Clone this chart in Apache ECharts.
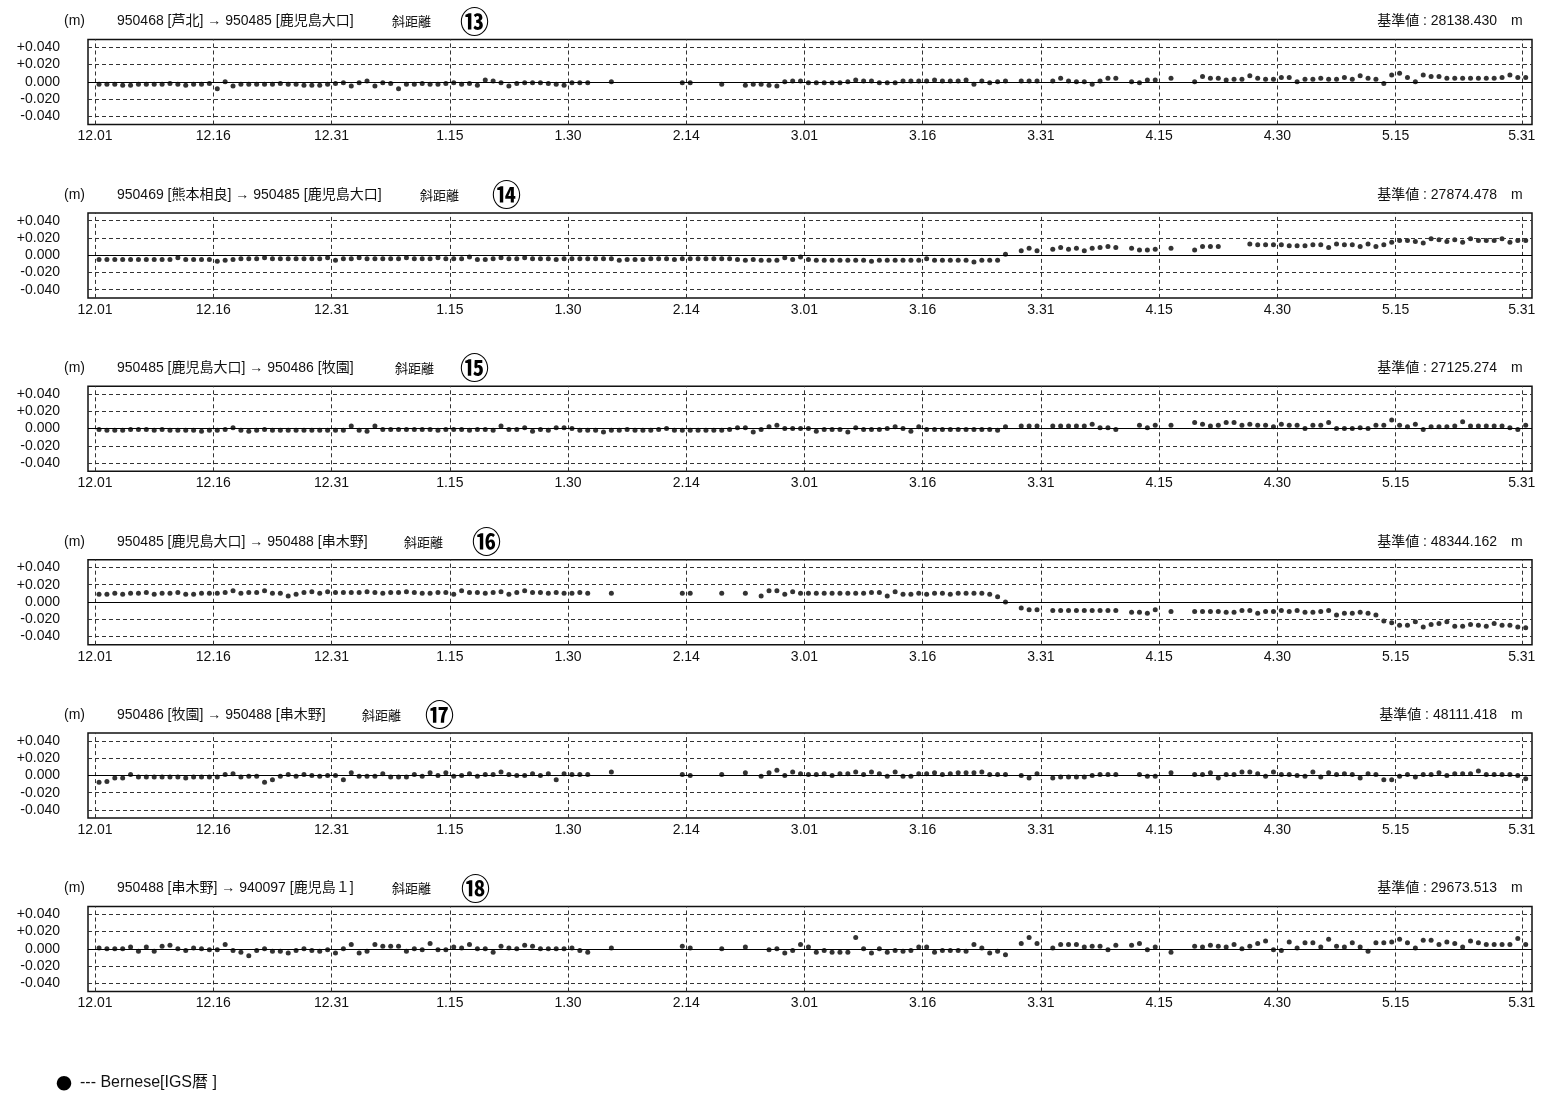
<!DOCTYPE html>
<html>
<head>
<meta charset="utf-8">
<title>斜距離 Bernese[IGS暦]</title>
<script src="https://cdn.jsdelivr.net/npm/echarts@6/dist/echarts.min.js"></script>
<style>
  html, body { margin: 0; padding: 0; background: #fff; }
  #chart { width: 1545px; height: 1094px; }
</style>
</head>
<body>
<div id="chart"></div>
<script>
// Day index 0 = 12.01; one daily solution per day, plotted at mid-day (index + 0.5)
const tickDays   = [0, 15, 30, 45, 60, 75, 90, 105, 120, 135, 150, 165, 181];
const tickLabels = ['12.01','12.16','12.31','1.15','1.30','2.14','3.01','3.16','3.31','4.15','4.30','5.15','5.31'];
const yTicks     = [-0.04, -0.02, 0, 0.02, 0.04];

// Baselines shown in the six panels
const routes = [
  '950468 [芦北] → 950485 [鹿児島大口]',
  '950469 [熊本相良] → 950485 [鹿児島大口]',
  '950485 [鹿児島大口] → 950486 [牧園]',
  '950485 [鹿児島大口] → 950488 [串木野]',
  '950486 [牧園] → 950488 [串木野]',
  '950488 [串木野] → 940097 [鹿児島１]'
];
const panelNos   = ['⑬', '⑭', '⑮', '⑯', '⑰', '⑱'];
const baseValues = ['28138.430', '27874.478', '27125.274', '48344.162', '48111.418', '29673.513'];

// Daily slope-distance residuals in mm (index = days since 12.01, null = no solution)
const line13 = [
  -3,-3,-3,-4,-4,-3,-3,-3,-3,-2,-3,-4,-3,-3,-2,
  -8,0,-5,-3,-3,-3,-3,-3,-2,-3,-3,-4,-4,-4,-3,
  -2,-1,-5,-1,1,-5,-1,-2,-8,-3,-3,-2,-3,-3,-2,
  -1,-3,-2,-4,2,1,-1,-5,-2,-1,-1,-1,-2,-3,-4,
  -1,-1,-1,null,null,0,null,null,null,null,null,null,null,null,-1,
  -1,null,null,null,-3,null,null,-4,-3,-3,-4,-5,0,1,1,
  -1,-1,-1,-1,-1,0,2,1,1,-1,-1,-1,1,1,1,
  1,2,1,1,1,2,-3,1,-1,0,1,null,1,1,1,
  null,1,4,1,0,0,-3,1,4,4,null,0,-1,2,2,
  null,4,null,null,0,6,4,4,2,3,3,7,4,3,3,
  5,5,0,3,3,4,3,3,5,3,7,4,3,-2,8,
  10,5,0,8,6,6,4,4,4,4,4,4,4,5,8,5,5
];
const line14 = [
  -5,-5,-5,-5,-5,-5,-5,-5,-5,-5,-3,-5,-5,-5,-5,
  -7,-6,-5,-4,-4,-4,-3,-4,-4,-4,-4,-4,-4,-4,-3,
  -6,-4,-4,-3,-4,-4,-4,-4,-4,-3,-4,-4,-4,-3,-4,
  -4,-4,-2,-5,-5,-4,-3,-4,-4,-3,-4,-4,-4,-5,-4,
  -4,-4,-4,-4,-4,-4,-6,-5,-5,-5,-4,-4,-4,-5,-4,
  -4,-4,-4,-4,-4,-4,-5,-6,-5,-6,-6,-6,-3,-5,-2,
  -5,-6,-6,-6,-6,-6,-6,-6,-7,-6,-6,-6,-6,-6,-6,
  -4,-6,-6,-6,-6,-6,-8,-6,-6,-6,1,null,5,8,5,
  null,7,9,7,8,5,8,9,10,9,null,8,6,6,7,
  null,8,null,null,6,10,10,10,null,null,null,13,12,12,12,
  12,11,11,11,12,12,9,13,12,12,10,13,10,12,15,
  17,17,16,14,19,18,16,18,15,19,17,17,17,19,15,17,17
];
const line15 = [
  -1,-2,-2,-2,-1,-1,-1,-2,-1,-2,-2,-2,-2,-3,-2,
  -2,-1,1,-2,-3,-2,-1,-2,-2,-2,-2,-2,-2,-2,-2,
  -2,-2,3,-2,-3,3,-1,-1,-1,-1,-1,-1,-1,-2,-1,
  -1,-1,-2,-1,-1,-2,3,-1,-1,1,-3,-1,-2,1,1,
  0,-2,-2,-2,-4,-2,-2,-1,-2,-2,-2,-1,0,-2,-2,
  -2,-2,-2,-2,-2,-1,1,1,-4,-1,2,4,0,0,0,
  0,-3,-1,-1,-1,-4,1,-1,-1,-1,0,2,0,-3,2,
  -1,-1,-1,-1,-1,-1,-1,-1,-1,-2,2,null,3,3,3,
  null,3,3,3,3,3,5,1,1,-1,null,null,4,1,4,
  null,4,null,null,7,5,3,4,7,7,4,5,4,4,2,
  5,4,4,0,4,4,7,0,0,0,1,0,4,4,10,
  4,2,5,-1,2,2,2,3,8,3,3,3,3,3,1,-1,4
];
const line16 = [
  9,9,10,9,10,10,11,9,10,10,11,9,9,10,10,
  10,11,13,10,11,11,13,10,10,7,9,11,12,10,12,
  11,11,11,11,12,11,10,11,11,12,11,10,10,11,11,
  9,13,11,11,10,11,12,9,11,13,11,11,10,11,10,
  10,11,10,null,null,10,null,null,null,null,null,null,null,null,10,
  10,null,null,null,10,null,null,10,null,7,13,13,9,12,10,
  10,10,10,10,10,10,10,10,11,11,7,12,9,9,10,
  9,10,10,9,10,10,10,10,9,6,0,null,-7,-9,-9,
  null,-10,-10,-10,-10,-10,-10,-10,-10,-10,null,-12,-12,-13,-9,
  null,-11,null,null,-11,-11,-11,-11,-12,-12,-10,-10,-13,-11,-11,
  -10,-11,-10,-12,-12,-11,-10,-15,-13,-13,-12,-13,-15,-22,-24,
  -27,-27,-23,-29,-26,-25,-23,-28,-28,-26,-27,-28,-25,-27,-27,-29,-30
];
const line17 = [
  -8,-7,-3,-3,1,-2,-2,-2,-2,-2,-2,-3,-2,-2,-2,
  -2,1,2,-2,-1,-1,-8,-5,-1,1,-1,1,0,-1,0,
  0,-5,3,-1,-1,-1,2,-2,-2,-2,1,-1,3,0,3,
  -1,0,2,-1,1,1,4,1,0,0,2,0,2,-5,2,
  1,1,1,null,null,4,null,null,null,null,null,null,null,null,1,
  0,null,null,null,1,null,null,3,null,-1,3,6,0,4,2,
  1,1,2,0,2,2,4,1,4,2,-1,4,-1,-1,2,
  2,3,1,2,3,3,3,4,1,1,1,null,0,-3,2,
  null,-3,-2,-2,-2,-2,0,1,1,1,null,null,1,-1,-1,
  null,3,null,null,1,1,3,-3,1,1,4,4,2,-1,4,
  1,1,0,-1,4,-2,3,1,2,1,-3,2,1,-5,-5,
  -1,1,-2,1,1,3,0,2,2,2,5,1,1,1,1,0,-4
];
const line18 = [
  1,0,0,0,2,-3,2,-3,3,4,0,-2,1,0,-1,
  -1,5,-2,-4,-8,-2,0,-3,-3,-5,-2,0,-2,-3,-1,
  -5,0,5,-5,-3,5,3,3,3,-3,0,-1,6,-1,-1,
  2,1,5,0,0,-4,3,1,0,4,3,0,0,0,0,
  1,-2,-4,null,null,1,null,null,null,null,null,null,null,null,3,
  1,null,null,null,0,null,null,2,null,null,-1,0,-5,-2,5,
  2,-4,-2,-4,-4,-4,13,0,-5,0,-4,-2,-3,-2,2,
  2,-4,-2,-2,-2,-3,5,1,-5,-3,-7,null,6,13,6,
  null,1,5,5,5,2,3,3,-1,4,null,4,6,-1,2,
  null,-4,null,null,3,2,4,3,2,5,0,3,6,9,-1,
  -2,8,1,7,7,2,11,3,2,7,2,-3,7,7,8,
  11,7,1,10,10,5,8,6,2,9,7,5,5,5,5,12,5
];
const panelValues = [line13, line14, line15, line16, line17, line18];

// ---- layout ----
const FONT = "'Liberation Sans', Arial, 'Noto Sans CJK JP', sans-serif";
const CJK  = "'Noto Sans CJK JP', sans-serif";
const GRID_LEFT = 88, GRID_WIDTH = 1444, GRID_H = 85, TOP0 = 39.5, PITCH = 173.4;
const kyoriX = [392, 420, 395, 404, 362, 392];   // x of 斜距離 in each header
const noX    = [460, 492, 460, 472, 425, 461];   // x of the circled panel number

function fmtY(v) {
  if (Math.abs(v) < 1e-9) return '0.000';
  return (v > 0 ? '+' : '') + v.toFixed(3);
}

const grids = [], xAxes = [], yAxes = [], series = [], graphics = [];

panelValues.forEach((vals, i) => {
  const top = TOP0 + i * PITCH;
  grids.push({
    left: GRID_LEFT, width: GRID_WIDTH, top: top, height: GRID_H,
    show: true, borderColor: '#111', borderWidth: 1.5, backgroundColor: 'transparent'
  });
  xAxes.push({
    type: 'value', gridIndex: i, min: -0.9, max: 182.3,
    axisLine: { show: false },
    axisTick: { show: false, customValues: tickDays },
    splitLine: { show: false },
    axisLabel: {
      customValues: tickDays,
      formatter: v => tickLabels[tickDays.indexOf(v)],
      fontSize: 14, color: '#111', fontFamily: FONT, margin: 5
    }
  });
  yAxes.push({
    type: 'value', gridIndex: i, min: -0.0495, max: 0.049,
    axisLine: { show: false },
    axisTick: { show: false, customValues: yTicks },
    splitLine: { show: false },
    axisLabel: {
      customValues: yTicks,
      formatter: fmtY,
      fontSize: 14, color: '#111', fontFamily: FONT, margin: 28
    }
  });

  const data = [];
  vals.forEach((v, k) => { if (v !== null) data.push([k + 0.5, v / 1000]); });

  // dashed reference grid + solid zero line
  series.push({
    type: 'line', xAxisIndex: i, yAxisIndex: i, data: [], z: 1, silent: true,
    markLine: {
      silent: true, symbol: ['none', 'none'], label: { show: false },
      lineStyle: { color: '#333', width: 1, type: [4, 3] },
      emphasis: { disabled: true },
      data: [
        ...tickDays.map(d => ({ xAxis: d })),
        ...yTicks.filter(v => v !== 0).map(v => ({ yAxis: v })),
        { yAxis: 0, lineStyle: { type: 'solid', color: '#000', width: 1 } }
      ]
    }
  });
  series.push({
    type: 'scatter', xAxisIndex: i, yAxisIndex: i, z: 3,
    symbol: 'circle', symbolSize: 5,
    itemStyle: { color: '#000' },
    data: data
  });

  // header line
  const hy = top - 18;
  const txt = (x, text, extra) => graphics.push({
    type: 'text', x: x, y: hy, silent: true,
    style: Object.assign({ text: text, fill: '#111', fontSize: 14, fontFamily: FONT, verticalAlign: 'middle' }, extra || {})
  });
  txt(64, '(m)');
  txt(117, routes[i]);
  txt(kyoriX[i], '斜距離', { fontFamily: CJK, fontSize: 13 });
  txt(noX[i], panelNos[i], { fontFamily: CJK, fontSize: 29, fontWeight: 'bold', fill: '#000' });
  txt(1497, '基準値 : ' + baseValues[i], { align: 'right' });
  txt(1511, 'm');
});

// legend
graphics.push({
  type: 'text', x: 56, y: 1083, silent: true,
  style: { text: '●', fill: '#000', fontSize: 16, fontFamily: CJK, verticalAlign: 'middle' }
});
graphics.push({
  type: 'text', x: 80, y: 1083, silent: true,
  style: { text: '--- Bernese[IGS暦 ]', fill: '#111', fontSize: 16, fontFamily: FONT, verticalAlign: 'middle' }
});

const chart = echarts.init(document.getElementById('chart'), null, { renderer: 'canvas' });
chart.setOption({
  animation: false,
  backgroundColor: '#fff',
  grid: grids,
  xAxis: xAxes,
  yAxis: yAxes,
  series: series,
  graphic: graphics
});
</script>
</body>
</html>
